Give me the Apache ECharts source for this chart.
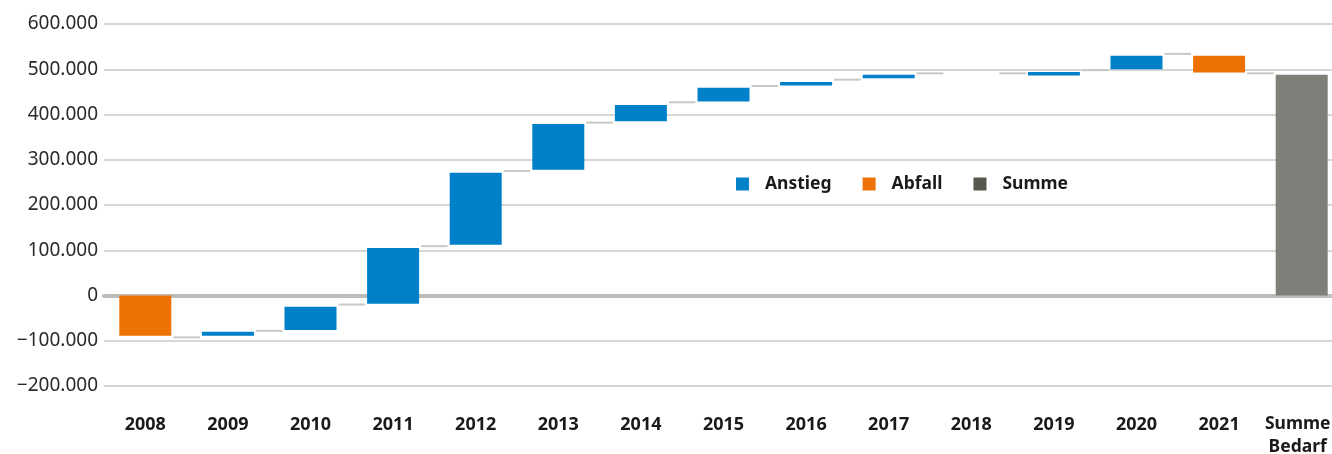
<!DOCTYPE html>
<html>
<head>
<meta charset="utf-8">
<script src="https://cdn.jsdelivr.net/npm/echarts@6/dist/echarts.min.js"></script>
<style>
  html, body { margin: 0; padding: 0; background: #fff; }
  #chart { width: 1332px; height: 454px; }
</style>
</head>
<body>
<div id="chart"></div>
<script>
// Kategorien (Jahre + Summe)
const categories = ['2008', '2009', '2010', '2011', '2012', '2013', '2014', '2015', '2016', '2017', '2018', '2019', '2020', '2021', 'Summe\nBedarf']
// Balken: Unter- und Oberkante je Kategorie (null = kein Balken)
const barLow  = [-89000, -89000, -76000, -18000, 112000, 278000, 385000, 429000, 464000, 480000, null, 486000, 500000, 493000, 0]
const barHigh = [0, -80000, -25000, 105000, 271000, 379000, 421000, 459000, 472000, 488000, null, 494000, 530000, 530000, 488000]
const barType = ['Abfall', 'Anstieg', 'Anstieg', 'Anstieg', 'Anstieg', 'Anstieg', 'Anstieg', 'Anstieg', 'Anstieg', 'Anstieg', null, 'Anstieg', 'Anstieg', 'Abfall', 'Summe']
// Verbindungslinien zwischen Kategorie i und i+1
const connectorLevel = [-92500, -78000, -20000, 109000, 275000, 382000, 427000, 463000, 477000, 491000, 491000, 498000, 534000, 491000]
// Y-Achse
const yTicks = [-200000, -100000, 0, 100000, 200000, 300000, 400000, 500000, 600000]

const colors = { Anstieg: '#0080c9', Abfall: '#ee7203', Summe: '#807e78' }
const legendColors = { Anstieg: '#0080c9', Abfall: '#ee7203', Summe: '#58574f' }
const BAR_W = 52

function fmt(v) {
  const s = Math.abs(v).toString().replace(/\B(?=(\d{3})+(?!\d))/g, '.')
  return v < 0 ? '\u2212' + s : s
}

function seriesFor(type) {
  const data = []
  categories.forEach((c, i) => {
    if (barType[i] === type) data.push([i, barLow[i], barHigh[i]])
  })
  return {
    name: type,
    type: 'custom',
    itemStyle: { color: legendColors[type] },
    encode: { x: 0, y: [1, 2] },
    data: data,
    z: 3,
    renderItem: function (params, api) {
      const i = api.value(0)
      const top = api.coord([i, api.value(2)])
      const bot = api.coord([i, api.value(1)])
      return {
        type: 'rect',
        shape: { x: top[0] - BAR_W / 2, y: top[1], width: BAR_W, height: bot[1] - top[1] },
        style: { fill: colors[type] }
      }
    }
  }
}

const chart = echarts.init(document.getElementById('chart'))
const font = '"Noto Sans", "Open Sans", sans-serif'

// letzte Beschriftung etwas nach links, damit sie nicht abgeschnitten wird
const xData = categories.map((c, i) => i === categories.length - 1
  ? { value: c, textStyle: { fontSize: 17.5, padding: [27, 8, 0, 0] } }
  : c)

const option = {
  animation: false,
  textStyle: { fontFamily: font },
  // rechter Rand liegt absichtlich außerhalb des Bildes
  grid: { left: 104, right: -11, top: 24, bottom: 68, containLabel: false, outerBoundsMode: 'none' },
  legend: {
    data: ['Anstieg', 'Abfall', 'Summe'],
    left: 736,
    top: 175,
    padding: 0,
    icon: 'rect',
    itemWidth: 13,
    itemHeight: 13,
    itemGap: 31,
    textStyle: { fontSize: 17.5, fontWeight: 'bold', color: '#1a1a1a', fontFamily: font, padding: [0, 0, 0, 11] }
  },
  xAxis: {
    type: 'category',
    data: xData,
    axisTick: { show: false },
    axisLine: { show: true, onZero: true, lineStyle: { color: '#bdbdb8', width: 4 } },
    axisLabel: {
      interval: 0,
      margin: 0,
      fontSize: 18,
      fontWeight: 'bold',
      color: '#1a1a1a',
      lineHeight: 23,
      fontFamily: font,
      verticalAlign: 'top',
      padding: [27, 0, 0, 0]
    }
  },
  yAxis: {
    type: 'value',
    min: yTicks[0],
    max: yTicks[yTicks.length - 1],
    interval: 100000,
    axisLine: { show: false },
    axisTick: { show: false },
    splitLine: { lineStyle: { color: '#c8c8c4', width: 1.5 } },
    axisLabel: { formatter: fmt, fontSize: 19, color: '#2a2a2a', margin: 6, fontFamily: font }
  },
  series: [
    seriesFor('Anstieg'),
    seriesFor('Abfall'),
    seriesFor('Summe'),
    {
      name: 'Verbindung',
      type: 'custom',
      encode: { x: 0, y: 1 },
      data: connectorLevel.map((v, i) => [i, v]),
      z: 2,
      renderItem: function (params, api) {
        const i = api.value(0)
        const a = api.coord([i, api.value(1)])
        const b = api.coord([i + 1, api.value(1)])
        return {
          type: 'line',
          shape: { x1: a[0] + BAR_W / 2 + 2, y1: a[1], x2: b[0] - BAR_W / 2 - 2, y2: b[1] },
          style: { stroke: '#c8c8c4', lineWidth: 2 }
        }
      }
    }
  ]
}
option && chart.setOption(option)
</script>
</body>
</html>
